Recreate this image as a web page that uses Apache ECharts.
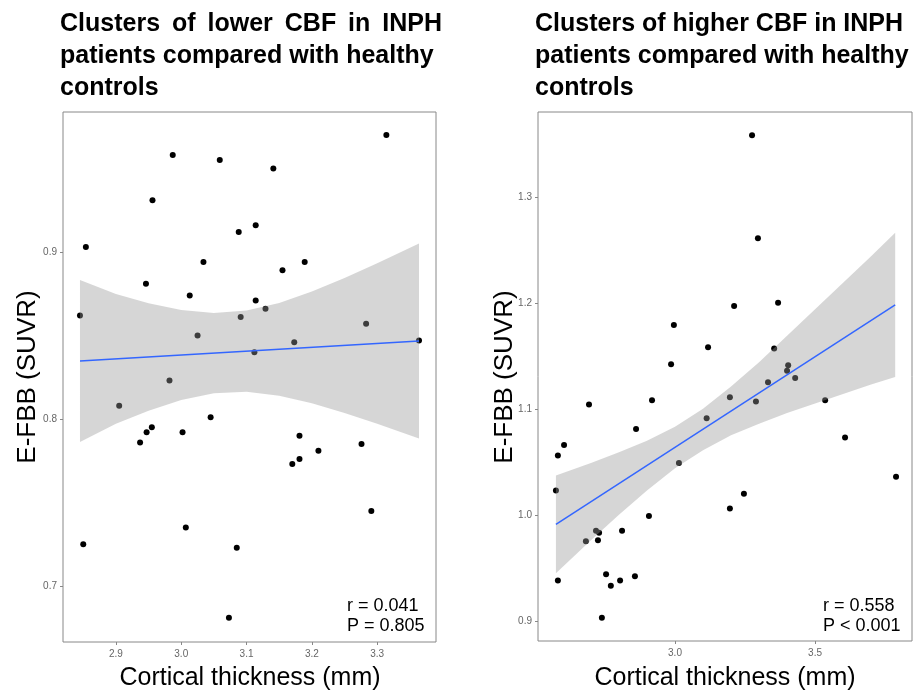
<!DOCTYPE html>
<html lang="en">
<head>
  <meta charset="UTF-8">
  <title>E-FBB vs cortical thickness</title>
  <style>
    html, body { margin: 0; padding: 0; background: #fff; }
    #main { width: 914px; height: 691px; }
  </style>
</head>
<body>
  <div id="main"></div>
  <script src="https://cdn.jsdelivr.net/npm/echarts@6.0.0/dist/echarts.min.js"></script>
  <script>
    // ---- left panel: clusters of lower CBF ----
    var lowerThickness = [2.854, 2.987, 3.059, 3.141, 3.314, 2.956, 3.088, 3.114, 3.034, 3.155,
      3.189, 2.946, 3.013, 3.114, 3.129, 2.845, 3.091, 3.283, 3.025, 3.173,
      3.364, 3.112, 2.982, 2.905, 3.045, 3.002, 2.955, 2.947, 2.937, 3.181,
      3.181, 3.170, 3.210, 3.276, 3.291, 3.007, 2.850, 3.085, 3.073];
    var lowerSuvr = [0.903, 0.958, 0.955, 0.950, 0.970, 0.931, 0.912, 0.916, 0.894, 0.889,
      0.894, 0.881, 0.874, 0.871, 0.866, 0.862, 0.861, 0.857, 0.850, 0.846,
      0.847, 0.840, 0.823, 0.808, 0.801, 0.792, 0.795, 0.792, 0.786, 0.790,
      0.776, 0.773, 0.781, 0.785, 0.745, 0.735, 0.725, 0.723, 0.681];
    var lowerFitX = [2.845, 3.364];
    var lowerFitY = [0.8347, 0.8467];
    var lowerBandX  = [2.845, 2.9, 2.95, 3.0, 3.05, 3.1, 3.15, 3.2, 3.25, 3.3, 3.364];
    var lowerBandHi = [0.8832, 0.8749, 0.8693, 0.8652, 0.8634, 0.8649, 0.8695, 0.8764, 0.8844, 0.8932, 0.9051];
    var lowerBandLo = [0.7862, 0.7971, 0.8049, 0.8114, 0.8154, 0.8163, 0.8139, 0.8094, 0.8036, 0.7972, 0.7883];
    var lowerXTicks = [2.9, 3.0, 3.1, 3.2, 3.3];
    var lowerYTicks = [0.7, 0.8, 0.9];

    // ---- right panel: clusters of higher CBF ----
    var higherThickness = [3.275, 3.296, 3.211, 3.368, 2.996, 3.118, 2.986, 3.354, 3.404, 3.400,
      3.429, 2.693, 2.918, 2.861, 3.332, 3.196, 3.289, 3.536, 3.113, 3.607,
      2.604, 2.582, 3.014, 2.575, 3.789, 3.246, 3.196, 2.907, 2.718, 2.729,
      2.725, 2.811, 2.682, 2.582, 2.754, 2.771, 2.804, 2.857, 2.739];
    var higherSuvr = [1.358, 1.261, 1.197, 1.200, 1.179, 1.158, 1.142, 1.157, 1.141, 1.136,
      1.129, 1.104, 1.108, 1.081, 1.125, 1.111, 1.107, 1.108, 1.091, 1.073,
      1.066, 1.056, 1.049, 1.023, 1.036, 1.020, 1.006, 0.999, 0.985, 0.983,
      0.976, 0.985, 0.975, 0.938, 0.944, 0.933, 0.938, 0.942, 0.903];
    var higherFitX = [2.575, 3.786];
    var higherFitY = [0.991, 1.198];
    var higherBandX  = [2.575, 2.7, 2.8, 2.9, 3.0, 3.1, 3.2, 3.3, 3.4, 3.5, 3.6, 3.7, 3.786];
    var higherBandHi = [1.037, 1.049, 1.059, 1.070, 1.083, 1.100, 1.121, 1.144, 1.169, 1.194, 1.219, 1.244, 1.266];
    var higherBandLo = [0.945, 0.976, 1.000, 1.023, 1.044, 1.061, 1.075, 1.086, 1.096, 1.105, 1.114, 1.123, 1.130];
    var higherXTicks = [3.0, 3.5];
    var higherYTicks = [0.9, 1.0, 1.1, 1.2, 1.3];

    var FONT = 'Liberation Sans';
    var FRAME = '#888';

    function zip(a, b) {
      return a.map(function (v, i) { return [v, b[i]]; });
    }

    function axisFor(idx, min, max, ticks, margin) {
      return {
        type: 'value', gridIndex: idx, min: min, max: max,
        splitLine: { show: false },
        axisLine: { show: false },
        axisTick: { show: true, length: 3, customValues: ticks, lineStyle: { color: FRAME } },
        axisLabel: {
          customValues: ticks, fontSize: 10, color: '#666', fontFamily: FONT, margin: margin,
          formatter: function (v) { return v.toFixed(1); }
        }
      };
    }

    // confidence band as one polygon (upper edge then lower edge back)
    function bandSeries(idx, xs, lo, hi) {
      var data = xs.map(function (x, i) { return [x, lo[i], hi[i]]; });
      return {
        type: 'custom', xAxisIndex: idx, yAxisIndex: idx, z: 3, silent: true,
        encode: { x: 0, y: [1, 2] },
        data: data,
        renderItem: function (params, api) {
          if (params.dataIndex !== 0) return;
          var pts = [];
          data.forEach(function (d) { pts.push(api.coord([d[0], d[2]])); });
          for (var i = data.length - 1; i >= 0; i--) pts.push(api.coord([data[i][0], data[i][1]]));
          return {
            type: 'polygon',
            shape: { points: pts },
            style: { fill: 'rgba(153,153,153,0.4)' }
          };
        }
      };
    }

    function pointSeries(idx, xs, ys) {
      return {
        type: 'scatter', xAxisIndex: idx, yAxisIndex: idx, z: 2,
        data: zip(xs, ys), symbolSize: 6,
        itemStyle: { color: '#000', opacity: 1 }
      };
    }

    function fitSeries(idx, xs, ys) {
      return {
        type: 'line', xAxisIndex: idx, yAxisIndex: idx, z: 4,
        data: zip(xs, ys), showSymbol: false,
        lineStyle: { color: '#3366FF', width: 1.5 }
      };
    }

    function txt(x, y, text, extra) {
      var style = { text: text, fontFamily: FONT, fontSize: 18, fill: '#000', align: 'left', verticalAlign: 'middle' };
      for (var k in extra) style[k] = extra[k];
      return { type: 'text', x: x, y: y, style: style, z: 10 };
    }

    // the original titles are justified; a thin space widens the first line a little
    var gap = ' \u2009';
    var titleLeft = ['Clusters', 'of', 'lower', 'CBF', 'in', 'INPH'].join(gap) +
      '\npatients compared with healthy\ncontrols';
    var titleRight = 'Clusters of higher CBF in INPH\npatients compared with healthy\ncontrols';
    var titleStyle = { fontSize: 25, fontWeight: 'bold', lineHeight: 32, verticalAlign: 'top' };

    var myChart = echarts.init(document.getElementById('main'), null, { renderer: 'canvas' });
    var option = {
      backgroundColor: '#fff',
      animation: false,
      grid: [
        { left: 63, top: 112, width: 373, height: 530, show: true, borderColor: FRAME, borderWidth: 1, backgroundColor: '#fff' },
        { left: 538, top: 112, width: 374, height: 529, show: true, borderColor: FRAME, borderWidth: 1, backgroundColor: '#fff' }
      ],
      xAxis: [
        axisFor(0, 2.819, 3.39, lowerXTicks, 7),
        axisFor(1, 2.511, 3.846, higherXTicks, 7)
      ],
      yAxis: [
        axisFor(0, 0.6665, 0.9838, lowerYTicks, 6),
        axisFor(1, 0.881, 1.380, higherYTicks, 6)
      ],
      series: [
        pointSeries(0, lowerThickness, lowerSuvr),
        bandSeries(0, lowerBandX, lowerBandLo, lowerBandHi),
        fitSeries(0, lowerFitX, lowerFitY),
        pointSeries(1, higherThickness, higherSuvr),
        bandSeries(1, higherBandX, higherBandLo, higherBandHi),
        fitSeries(1, higherFitX, higherFitY)
      ],
      graphic: [
        txt(60, 8, titleLeft, titleStyle),
        txt(535, 8, titleRight, titleStyle),
        { type: 'text', x: 28, y: 377, rotation: Math.PI / 2, z: 10,
          style: { text: 'E-FBB (SUVR)', fontFamily: FONT, fontSize: 26, fill: '#000', align: 'center', verticalAlign: 'middle' } },
        { type: 'text', x: 505, y: 377, rotation: Math.PI / 2, z: 10,
          style: { text: 'E-FBB (SUVR)', fontFamily: FONT, fontSize: 26, fill: '#000', align: 'center', verticalAlign: 'middle' } },
        txt(250, 678, 'Cortical thickness (mm)', { fontSize: 25, align: 'center' }),
        txt(725, 678, 'Cortical thickness (mm)', { fontSize: 25, align: 'center' }),
        txt(347, 606, 'r = 0.041', {}),
        txt(347, 626, 'P = 0.805', {}),
        txt(823, 606, 'r = 0.558', {}),
        txt(823, 626, 'P < 0.001', {})
      ]
    };
    myChart.setOption(option);
  </script>
</body>
</html>
